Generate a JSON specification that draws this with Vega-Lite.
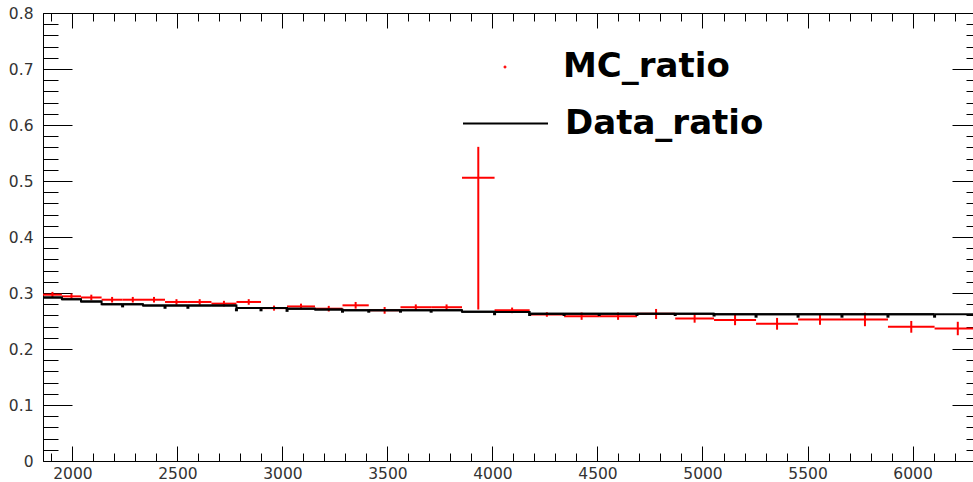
{
  "$schema": "https://vega.github.io/schema/vega-lite/v6.json",
  "width": 938,
  "height": 448,
  "autosize": {"type": "none"},
  "padding": {"left": 43, "top": 13, "right": -8, "bottom": 21},
  "background": "white",
  "config": {
    "view": {"stroke": "#000000", "strokeWidth": 1},
    "axis": {"grid": false, "domain": false, "tickColor": "#000000", "tickWidth": 1, "labelFont": "DejaVu Sans", "labelFontSize": 15.5, "labelColor": "#333333", "labelOverlap": false, "labelFlush": false, "labelBound": false}
  },
  "datasets": {
    "bins": [
      {"lo": 1860, "hi": 1950, "mid": 1905, "mc": 0.297, "elo": 0.292, "ehi": 0.302, "data": 0.292},
      {"lo": 1950, "hi": 2041, "mid": 1995.5, "mc": 0.294, "elo": 0.289, "ehi": 0.299, "data": 0.289},
      {"lo": 2041, "hi": 2139, "mid": 2090, "mc": 0.292, "elo": 0.287, "ehi": 0.297, "data": 0.285},
      {"lo": 2139, "hi": 2239, "mid": 2189, "mc": 0.288, "elo": 0.283, "ehi": 0.293, "data": 0.280},
      {"lo": 2239, "hi": 2336, "mid": 2287.5, "mc": 0.288, "elo": 0.283, "ehi": 0.293, "data": 0.280},
      {"lo": 2336, "hi": 2441, "mid": 2388.5, "mc": 0.288, "elo": 0.283, "ehi": 0.293, "data": 0.2775},
      {"lo": 2441, "hi": 2550, "mid": 2495.5, "mc": 0.284, "elo": 0.279, "ehi": 0.289, "data": 0.2775},
      {"lo": 2550, "hi": 2662, "mid": 2606, "mc": 0.284, "elo": 0.279, "ehi": 0.289, "data": 0.2775},
      {"lo": 2662, "hi": 2781, "mid": 2721.5, "mc": 0.281, "elo": 0.276, "ehi": 0.286, "data": 0.2775},
      {"lo": 2781, "hi": 2898, "mid": 2839.5, "mc": 0.284, "elo": 0.279, "ehi": 0.289, "data": 0.273},
      {"lo": 2898, "hi": 3022, "mid": 2960, "mc": 0.273, "elo": 0.2685, "ehi": 0.2775, "data": 0.273},
      {"lo": 3022, "hi": 3155, "mid": 3088.5, "mc": 0.276, "elo": 0.271, "ehi": 0.281, "data": 0.272},
      {"lo": 3155, "hi": 3286, "mid": 3220.5, "mc": 0.272, "elo": 0.267, "ehi": 0.277, "data": 0.2705},
      {"lo": 3286, "hi": 3411, "mid": 3348.5, "mc": 0.278, "elo": 0.272, "ehi": 0.284, "data": 0.269},
      {"lo": 3411, "hi": 3562, "mid": 3486.5, "mc": 0.269, "elo": 0.263, "ehi": 0.275, "data": 0.269},
      {"lo": 3562, "hi": 3708, "mid": 3635, "mc": 0.2746, "elo": 0.2696, "ehi": 0.2796, "data": 0.269},
      {"lo": 3708, "hi": 3855, "mid": 3781.5, "mc": 0.2746, "elo": 0.2696, "ehi": 0.2796, "data": 0.269},
      {"lo": 3855, "hi": 4010, "mid": 3932.5, "mc": 0.506, "elo": 0.2705, "ehi": 0.561, "data": 0.2665},
      {"lo": 4010, "hi": 4177, "mid": 4093.5, "mc": 0.269, "elo": 0.264, "ehi": 0.274, "data": 0.266},
      {"lo": 4177, "hi": 4341, "mid": 4259, "mc": 0.2616, "elo": 0.2576, "ehi": 0.2656, "data": 0.263},
      {"lo": 4341, "hi": 4508, "mid": 4424.5, "mc": 0.2586, "elo": 0.2521, "ehi": 0.2651, "data": 0.263},
      {"lo": 4508, "hi": 4688, "mid": 4598, "mc": 0.2586, "elo": 0.2521, "ehi": 0.2651, "data": 0.263},
      {"lo": 4688, "hi": 4870, "mid": 4779, "mc": 0.263, "elo": 0.2535, "ehi": 0.2715, "data": 0.263},
      {"lo": 4870, "hi": 5055, "mid": 4962.5, "mc": 0.2545, "elo": 0.247, "ehi": 0.262, "data": 0.263},
      {"lo": 5055, "hi": 5255, "mid": 5155, "mc": 0.252, "elo": 0.2425, "ehi": 0.2615, "data": 0.262},
      {"lo": 5255, "hi": 5455, "mid": 5355, "mc": 0.245, "elo": 0.2345, "ehi": 0.2555, "data": 0.262},
      {"lo": 5455, "hi": 5664, "mid": 5559.5, "mc": 0.2527, "elo": 0.2432, "ehi": 0.2622, "data": 0.262},
      {"lo": 5664, "hi": 5883, "mid": 5773.5, "mc": 0.2527, "elo": 0.2407, "ehi": 0.2647, "data": 0.262},
      {"lo": 5883, "hi": 6105, "mid": 5994, "mc": 0.2396, "elo": 0.2291, "ehi": 0.2501, "data": 0.262},
      {"lo": 6105, "hi": 6326, "mid": 6215.5, "mc": 0.2366, "elo": 0.2246, "ehi": 0.2486, "data": 0.262}
    ],
    "dots": [
      {"x": 2239, "y": 0.277}, {"x": 2441, "y": 0.2745}, {"x": 2550, "y": 0.2745},
      {"x": 2781, "y": 0.270}, {"x": 2898, "y": 0.270}, {"x": 3022, "y": 0.269},
      {"x": 3286, "y": 0.2675}, {"x": 3411, "y": 0.2675}, {"x": 3562, "y": 0.2675},
      {"x": 3708, "y": 0.2675}, {"x": 4010, "y": 0.263}, {"x": 4177, "y": 0.2616},
      {"x": 4341, "y": 0.2616}, {"x": 4508, "y": 0.2616}, {"x": 4688, "y": 0.2616},
      {"x": 4870, "y": 0.2616}, {"x": 5055, "y": 0.2606}, {"x": 5255, "y": 0.2586},
      {"x": 5455, "y": 0.2586}, {"x": 5664, "y": 0.2586}, {"x": 5883, "y": 0.2586},
      {"x": 6105, "y": 0.2586}
    ]
  },
  "layer": [
    {
      "data": {"name": "bins"},
      "mark": {"type": "rule", "strokeWidth": 2, "clip": true},
      "encoding": {
        "x": {"field": "lo", "type": "quantitative", "scale": {"domain": [1860, 6326], "nice": false, "zero": false},
              "axis": {"orient": "bottom", "title": null, "values": [2000, 2500, 3000, 3500, 4000, 4500, 5000, 5500, 6000], "ticks": false, "format": "d", "labelPadding": 5}},
        "x2": {"field": "hi"},
        "y": {"field": "mc", "type": "quantitative", "scale": {"domain": [0, 0.8], "nice": false, "zero": false},
              "axis": {"orient": "right", "title": null, "labels": false, "tickSize": -29, "values": [0, 0.1, 0.2, 0.3, 0.4, 0.5, 0.6, 0.7, 0.8]}},
        "color": {
          "datum": "MC_ratio",
          "type": "nominal",
          "scale": {"domain": ["MC_ratio"], "range": ["#ff0000"]},
          "legend": {
            "orient": "none", "legendX": 445, "legendY": 37, "title": null, "padding": 0,
            "labelFont": "DejaVu Sans", "labelFontSize": 34, "labelFontWeight": "bold", "labelColor": "#000000",
            "labelOffset": 41, "symbolType": "square", "symbolSize": 3, "symbolStrokeWidth": 1, "symbolFillColor": "#ff0000", "symbolOffset": 0, "labelLimit": 0
          }
        }
      }
    },
    {
      "data": {"name": "bins"},
      "mark": {"type": "rule", "strokeWidth": 2, "color": "#ff0000", "clip": true},
      "encoding": {
        "x": {"field": "mid", "type": "quantitative", "scale": {"domain": [1860, 6326], "nice": false, "zero": false},
              "axis": {"orient": "top", "title": null, "labels": false, "tickSize": -15, "values": [2000, 2500, 3000, 3500, 4000, 4500, 5000, 5500, 6000]}},
        "y": {"field": "elo", "type": "quantitative", "scale": {"domain": [0, 0.8], "nice": false, "zero": false},
              "axis": {"orient": "left", "title": null, "ticks": false, "format": "~g", "labelPadding": 10, "values": [0, 0.1, 0.2, 0.3, 0.4, 0.5, 0.6, 0.7, 0.8]}},
        "y2": {"field": "ehi"}
      }
    },
    {
      "data": {"name": "bins"},
      "mark": {"type": "rule", "strokeWidth": 2, "color": "#000000", "clip": true},
      "encoding": {
        "x": {"field": "lo", "type": "quantitative", "scale": {"domain": [1860, 6326], "nice": false, "zero": false},
              "axis": {"orient": "bottom", "title": null, "labels": false, "tickSize": -15, "values": [2000, 2500, 3000, 3500, 4000, 4500, 5000, 5500, 6000]}},
        "x2": {"field": "hi"},
        "y": {"field": "data", "type": "quantitative", "scale": {"domain": [0, 0.8], "nice": false, "zero": false},
              "axis": {"orient": "left", "title": null, "labels": false, "tickSize": -29, "values": [0, 0.1, 0.2, 0.3, 0.4, 0.5, 0.6, 0.7, 0.8]}},
        "strokeDash": {
          "datum": "Data_ratio",
          "type": "nominal",
          "scale": {"domain": ["Data_ratio"], "range": [[1, 0]]},
          "legend": {
            "orient": "none", "legendX": 419, "legendY": 67, "title": null, "padding": 0,
            "labelFont": "DejaVu Sans", "labelFontSize": 34, "labelFontWeight": "bold", "labelColor": "#000000",
            "labelOffset": 16, "symbolType": "stroke", "symbolSize": 7225, "symbolStrokeWidth": 2, "symbolStrokeColor": "#000000", "symbolOffset": 0, "labelLimit": 0
          }
        }
      }
    },
    {
      "data": {"name": "bins"},
      "mark": {"type": "line", "interpolate": "step-after", "strokeWidth": 2, "color": "#000000", "clip": true},
      "encoding": {
        "x": {"field": "lo", "type": "quantitative", "scale": {"domain": [1860, 6326], "nice": false, "zero": false},
              "axis": {"orient": "bottom", "title": null, "labels": false, "tickSize": -8, "values": [1900, 2000, 2100, 2200, 2300, 2400, 2500, 2600, 2700, 2800, 2900, 3000, 3100, 3200, 3300, 3400, 3500, 3600, 3700, 3800, 3900, 4000, 4100, 4200, 4300, 4400, 4500, 4600, 4700, 4800, 4900, 5000, 5100, 5200, 5300, 5400, 5500, 5600, 5700, 5800, 5900, 6000, 6100, 6200, 6300]}},
        "y": {"field": "data", "type": "quantitative", "scale": {"domain": [0, 0.8], "nice": false, "zero": false},
              "axis": {"orient": "left", "title": null, "labels": false, "tickSize": -15, "values": [0, 0.02, 0.04, 0.06, 0.08, 0.1, 0.12, 0.14, 0.16, 0.18, 0.2, 0.22, 0.24, 0.26, 0.28, 0.3, 0.32, 0.34, 0.36, 0.38, 0.4, 0.42, 0.44, 0.46, 0.48, 0.5, 0.52, 0.54, 0.56, 0.58, 0.6, 0.62, 0.64, 0.66, 0.68, 0.7, 0.72, 0.74, 0.76, 0.78, 0.8]}}
      }
    },
    {
      "data": {"name": "dots"},
      "mark": {"type": "point", "shape": "square", "size": 9, "filled": true, "color": "#000000", "opacity": 1, "clip": true},
      "encoding": {
        "x": {"field": "x", "type": "quantitative", "scale": {"domain": [1860, 6326], "nice": false, "zero": false},
              "axis": {"orient": "top", "title": null, "labels": false, "tickSize": -8, "values": [1900, 2000, 2100, 2200, 2300, 2400, 2500, 2600, 2700, 2800, 2900, 3000, 3100, 3200, 3300, 3400, 3500, 3600, 3700, 3800, 3900, 4000, 4100, 4200, 4300, 4400, 4500, 4600, 4700, 4800, 4900, 5000, 5100, 5200, 5300, 5400, 5500, 5600, 5700, 5800, 5900, 6000, 6100, 6200, 6300]}},
        "y": {"field": "y", "type": "quantitative", "scale": {"domain": [0, 0.8], "nice": false, "zero": false},
              "axis": {"orient": "right", "title": null, "labels": false, "tickSize": -15, "values": [0, 0.02, 0.04, 0.06, 0.08, 0.1, 0.12, 0.14, 0.16, 0.18, 0.2, 0.22, 0.24, 0.26, 0.28, 0.3, 0.32, 0.34, 0.36, 0.38, 0.4, 0.42, 0.44, 0.46, 0.48, 0.5, 0.52, 0.54, 0.56, 0.58, 0.6, 0.62, 0.64, 0.66, 0.68, 0.7, 0.72, 0.74, 0.76, 0.78, 0.8]}}
      }
    }
  ]
}
